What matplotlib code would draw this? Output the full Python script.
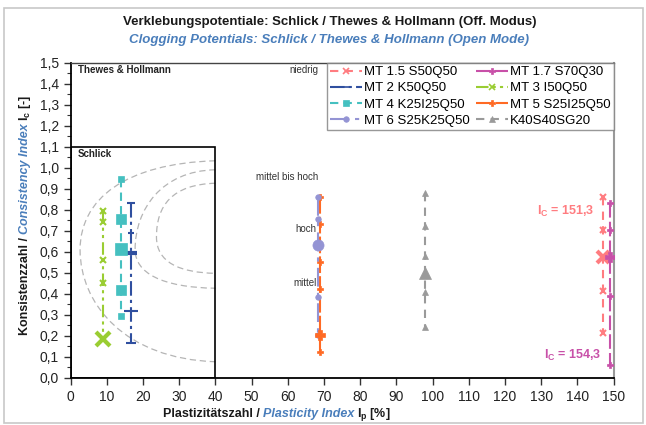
import numpy as np
import matplotlib
matplotlib.use("Agg")
import matplotlib.pyplot as plt
from matplotlib.path import Path
from matplotlib.patches import PathPatch, Rectangle
from matplotlib.ticker import MultipleLocator, FuncFormatter
from matplotlib.transforms import IdentityTransform

plt.rcParams['font.family'] = ['Liberation Sans', 'DejaVu Sans']
plt.rcParams['mathtext.fontset'] = 'custom'
plt.rcParams['mathtext.rm'] = 'Liberation Sans'
plt.rcParams['mathtext.it'] = 'Liberation Sans:italic'
plt.rcParams['mathtext.bf'] = 'Liberation Sans:bold'

BLUE = '#4a7ebb'

# data: Ip of each mix, its Ic values, index of the mean value
names = ['MT 1.5 S50Q50', 'MT 1.7 S70Q30', 'MT 2 K50Q50', 'MT 3 I50Q50',
         'MT 4 K25I25Q50', 'MT 5 S25I25Q50', 'MT 6 S25K25Q50', 'K40S40SG20']
ip_values = [147.1, 149.1, 16.6, 8.8, 13.9, 68.8, 68.3, 97.8]
ic_mt15 = [0.862, 0.703, 0.576, 0.413, 0.211]
ic_mt17 = [0.833, 0.703, 0.576, 0.390, 0.060]
ic_mt2 = [0.833, 0.690, 0.592, 0.319, 0.164]
ic_mt3 = [0.794, 0.741, 0.560, 0.449, 0.183]
ic_mt4 = [0.945, 0.754, 0.611, 0.418, 0.294]
ic_mt5 = [0.862, 0.732, 0.551, 0.421, 0.203, 0.122]
ic_mt6 = [0.862, 0.754, 0.630, 0.386, 0.203]
ic_k40 = [0.878, 0.722, 0.579, 0.497, 0.410, 0.243]
ic_all = [ic_mt15, ic_mt17, ic_mt2, ic_mt3, ic_mt4, ic_mt5, ic_mt6, ic_k40]
mean_idx = [2, 2, 2, 4, 2, 4, 2, 3]

# style per series
colors = ['#ff7c80', '#c850a8', '#2f4f9f', '#9acd32', '#45c0c0', '#ff6a24', '#9494d4', '#9a9a9a']
markers = ['x', 'P', '_', 'x', 's', 'P', 'o', '^']
linestyles = [(0, (4, 3)), (0, (7, 2)), (0, (7, 2, 1.5, 2)), (0, (6, 2, 1.5, 2, 1.5, 2)),
              (0, (4, 2.5)), (0, (8, 1.5)), (0, (9, 3, 2, 3)), (0, (4, 3))]
marker_sizes = [
    [4, 4, 9, 4, 4],
    [4, 4, 7, 4, 4],
    [6, 5, 8, 10, 7],
    [4, 4, 4, 4, 10],
    [4, 7, 9, 7, 4],
    [4, 4, 4, 4, 7, 4],
    [4, 4, 8, 4, 4],
    [4, 4, 4, 8, 4, 4],
]

fig = plt.figure(figsize=(6.46, 4.25), dpi=100)
ax = fig.add_axes([0.1094, 0.1113, 0.8406, 0.7412])

handles = []
for i in range(len(names)):
    ys = ic_all[i]
    xs = [ip_values[i]] * len(ys)
    ax.plot(xs, ys, color=colors[i], linestyle=linestyles[i], lw=1.5, zorder=3)
    for j, yv in enumerate(ys):
        big = j == mean_idx[i]
        if markers[i] in ('x', '_'):
            mew = 3 if big else 1.5
        else:
            mew = 0.5
        ax.plot([ip_values[i]], [yv], color=colors[i], marker=markers[i], ms=marker_sizes[i][j],
                mew=mew, ls='none', zorder=4 if big else 3)
    h, = ax.plot([], [], color=colors[i], linestyle=linestyles[i], lw=1.5,
                 marker=markers[i], ms=4, mew=1.2 if markers[i] in ('x', '_') else 0.5,
                 label=names[i])
    handles.append(h)

# Schlick box and dashed zone contours
ax.add_patch(Rectangle((0, 0), 40, 1.1, fill=False, ec='black', lw=1.2, zorder=2))
curves = [
    [(40, 1.033), (15, 1.02), (2.6, 0.85), (2.6, 0.61), (2.6, 0.35), (15, 0.09), (40, 0.076)],
    [(40, 0.99), (25, 0.985), (17.8, 0.8), (17.8, 0.61), (17.8, 0.5), (25, 0.43), (40, 0.426)],
    [(40, 0.926), (28, 0.92), (23.7, 0.82), (23.7, 0.67), (23.7, 0.55), (30, 0.5), (40, 0.497)],
]
codes = [Path.MOVETO] + [Path.CURVE4] * 6
for pts in curves:
    ax.add_patch(PathPatch(Path(pts, codes), fill=False, ec='#b5b5b5', lw=0.9,
                           ls=(0, (5, 3)), zorder=1))

ax.set_xlim(0, 150)
ax.set_ylim(0, 1.5)
ax.xaxis.set_major_locator(MultipleLocator(10))
ax.yaxis.set_major_locator(MultipleLocator(0.1))
ax.yaxis.set_minor_locator(MultipleLocator(0.05))
ax.yaxis.set_major_formatter(FuncFormatter(lambda v, p: f"{v:.1f}".replace('.', ',')))
ax.tick_params(axis='both', labelsize=10, direction='out', length=5, width=1, colors='#333333',
               labelcolor='#222222')
ax.tick_params(axis='y', which='minor', length=3, width=0.8, colors='#333333')
for s in ['left', 'bottom']:
    ax.spines[s].set_linewidth(1.3)
    ax.spines[s].set_color('black')
ax.spines['top'].set_color('#444444')
ax.spines['top'].set_linewidth(1)
ax.spines['right'].set_color('#999999')
ax.spines['right'].set_linewidth(1.5)

# labels inside the plot
ax.text(2, 1.465, 'Thewes & Hollmann', fontsize=7, fontweight='bold', va='center', color='#222222')
ax.text(2, 1.065, 'Schlick', fontsize=7, fontweight='bold', va='center', color='#222222')
ax.text(68.5, 1.465, 'niedrig', fontsize=7, ha='right', va='center', color='#333333')
ax.text(68.5, 0.957, 'mittel bis hoch', fontsize=7, ha='right', va='center', color='#333333')
ax.text(68.0, 0.708, 'hoch', fontsize=7, ha='right', va='center', color='#333333')
ax.text(68.0, 0.452, 'mittel', fontsize=7, ha='right', va='center', color='#333333')
ax.text(144.6, 0.79, r'$\mathbf{I_C}$ = 151,3', fontsize=9, fontweight='bold',
        ha='right', va='center', color=colors[0])
ax.text(146.5, 0.108, r'$\mathbf{I_C}$ = 154,3', fontsize=9, fontweight='bold',
        ha='right', va='center', color=colors[1])

# legend filled row by row like the original: left column 0,2,4,6 / right column 1,3,5,7
order = [0, 2, 4, 6, 1, 3, 5, 7]
leg = ax.legend([handles[k] for k in order], [names[k] for k in order],
                loc='upper right', ncol=2, fontsize=9.5, frameon=True, fancybox=False,
                borderaxespad=0.0, handlelength=2.4, handletextpad=0.15, columnspacing=0.5,
                labelspacing=0.3, borderpad=0.25)
leg.get_frame().set_edgecolor('#7f7f7f')
leg.get_frame().set_linewidth(1)


def rich_text(x, y, pieces, rotation=0, size=9):
    # place differently styled text pieces one after another, centred at pixel (x, y)
    fig.canvas.draw()
    renderer = fig.canvas.get_renderer()
    items = []
    total = 0
    for s, color, style in pieces:
        t = fig.text(0, 0, s, transform=IdentityTransform(), fontsize=size, fontweight='bold',
                     fontstyle=style, color=color, rotation=rotation, rotation_mode='anchor',
                     ha='left', va='baseline')
        bb = t.get_window_extent(renderer)
        w = bb.height if rotation else bb.width
        items.append((t, total))
        total += w + 3
    total -= 3
    for t, off in items:
        if rotation:
            t.set_position((x, y - total / 2 + off))
        else:
            t.set_position((x - total / 2 + off, y))


H = 425
fig.text(0.51, 1 - 22 / H, 'Verklebungspotentiale: Schlick / Thewes & Hollmann (Off. Modus)',
         ha='center', va='center', fontsize=9.5, fontweight='bold', color='#1a1a1a')
fig.text(0.51, 1 - 40 / H, 'Clogging Potentials: Schlick / Thewes & Hollmann (Open Mode)',
         ha='center', va='center', fontsize=9.5, fontweight='bold', fontstyle='italic', color=BLUE)

rich_text(277, H - 417, [('Plastizitätszahl /', '#1a1a1a', 'normal'),
                         ('Plasticity Index', BLUE, 'italic'),
                         (r'$\mathbf{I_p}$ [%]', '#1a1a1a', 'normal')])
rich_text(28, H - 215, [('Konsistenzzahl /', '#1a1a1a', 'normal'),
                        ('Consistency Index', BLUE, 'italic'),
                        (r'$\mathbf{I_c}$ [-]', '#1a1a1a', 'normal')], rotation=90)

fig.patches.append(Rectangle((4 / 646, 2 / H), 639 / 646, 415 / H, transform=fig.transFigure,
                             fill=False, ec='#c8c8c8', lw=1.2))

fig.savefig('out.png', dpi=100)
